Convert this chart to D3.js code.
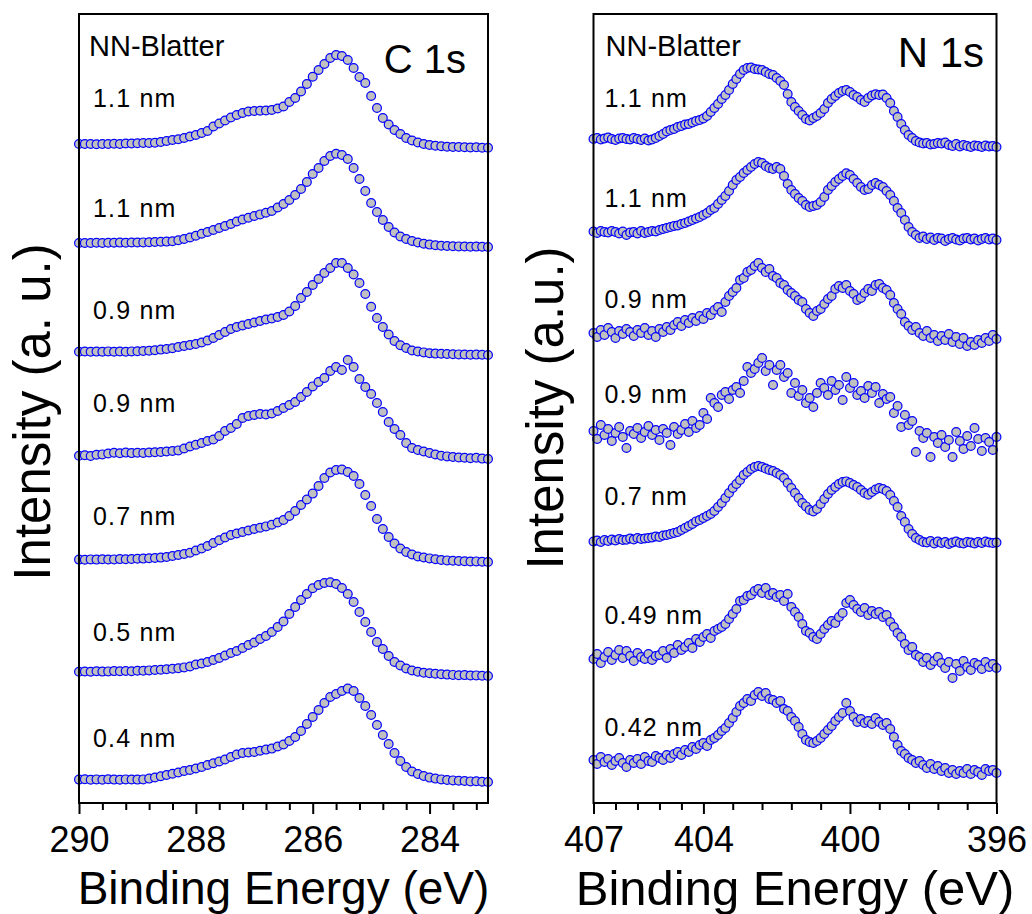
<!DOCTYPE html>
<html>
<head>
<meta charset="utf-8">
<script src="https://cdn.jsdelivr.net/npm/d3@7"></script>
<style>
  body { margin: 0; background: #fff; }
  text { font-family: "Liberation Sans", Arial, sans-serif; fill: #000; }
</style>
</head>
<body>
<div id="chart"></div>
<script>
// ---- data -------------------------------------------------------------
// binding energy grids (eV), 0.1 eV steps
const cEnergy = d3.range(71).map(i => +(290 - i * 0.1).toFixed(1));
const nEnergy = d3.range(111).map(i => +(407 - i * 0.1).toFixed(1));

const cLabels = ["1.1 nm", "1.1 nm", "0.9 nm", "0.9 nm", "0.7 nm", "0.5 nm", "0.4 nm"];
const nLabels = ["1.1 nm", "1.1 nm", "0.9 nm", "0.9 nm", "0.7 nm", "0.49 nm", "0.42 nm"];

// vertical stacking offsets (a.u.)
const cOffsets = [655, 556, 448, 344, 241, 127, 21];
const nOffsets = [656, 563, 463, 360, 260, 136, 30];

// C 1s spectra (a.u. above offset)
const c1 = [4,4,4,3.7,4,4,4.3,4,4.5,4.5, 4.7,5,5,5.3,6,7,8,8.7,10,11.5, 13,15,17,21.5,24.5,27.5,30.5,33,35,36.5,
  37,37.3,37.5,38,39.5,41.5,46,50,56.5,64, 71.3,78,84,90,93,92,88,80,71,65, 52,40,30,23.5,18,14,10,7.5,5.5,4,
  3,2.3,1.7,1.3,1,1,0.7,0.5,0.7,0.3, 0.3];
const c2 = [4,4,4,4.2,4,4.3,4.2,4.4,4.3,4.5, 4.5,4.6,4.8,5,5.2,5.4,5.8,6.8,8,9.5, 11.3,13.2,15,17,19,21,23,25.5,27.5,29.3,
  31,32.6,34.2,36,39.5,43,47,52,58,65, 73,79,86,91,93.3,92,88,79,68,56, 44,35,27,20,14.5,10.5,8,6,4.5,3.2,
  2.4,1.8,1.2,1,0.8,0.6,0.5,0.3,0.4,0.2, 0];
const c3 = [3.3,3.5,3.2,3.4,3.3,3.6,3.2,3.5,3.3,3.6, 3.8,4,4.3,4.8,5.4,6,6.7,8,9,10, 11,12.5,14.5,17,20,23,26,28,29.5,31,
  32.5,34,35.5,36.5,38,40,43.5,49,57,63, 70,76,82,87,92,92,87,80.5,72,61, 48.3,37,28,20.5,14,9.8,7,4.5,3.5,2.6,
  1.8,1.4,1.2,1,0.8,0.6,0.5,0.3,0.4,0.2, 0];
const c4 = [3.3,3.8,3,4.2,4.6,5.5,6.2,5.8,6.4,5.9, 6.3,6,6.5,6.8,7,7.5,8,8.6,10.5,12.5, 14.3,16,18,19.5,23,28,31,35,41,43,
  44,45,44.5,45.5,48,51,54,57,62,67, 72.6,77,81,88,92,89,99,92,80,72, 65,56,47,37,30,24,16,11,9,7.5,
  6,4.5,3.3,2.6,2,1.5,1.2,0.8,1.2,0.4, 0];
const c5 = [2.4,2.2,2.6,2.4,2.8,2.5,2.6,2.9,2.7,3, 3.2,3.4,3.7,4,4.4,5,6,7,8,9.2, 11.5,13.5,16,19,21.8,24.5,27,28.5,30,31.5,
  33,34.3,35.6,37.2,39.5,42,46,51,57,62.5, 68.4,76,84,89.5,92,92.4,90,86,78,67, 56,43,33,25,18.5,13.5,10,7.5,5.5,4.5,
  3.6,2.8,2,1.6,1.3,1,0.8,0.5,0.6,0.3, 0];
const c6 = [4.3,4.5,4.2,4.8,4.4,4.6,4.9,4.7,5,4.8, 5.2,5.3,5.6,6,6.3,6.8,7.3,7.8,8.6,9.5, 11.5,12.5,14,16,18,20.5,23,25,28,31,
  33.5,37,40,44,49,54.5,62,69,76,82, 87.7,91,93,93.7,92,88,82,74,64,54, 44,34,27,20,14,10.5,7.5,5.5,4.3,3.3,
  2.7,2.2,1.8,1.4,1.1,0.8,0.9,0.5,0.6,0.3, 0];
const c7 = [2.4,2.8,2.2,2.6,2.3,2.7,2.4,2.2,2.6,2.5, 2.4,2.6,3.4,4.5,5.7,7,8.3,9.5,11,12, 13.5,15,17,18.7,20.5,22.5,25,27.5,29,29.5,
  30,31.2,32.4,33.4,35.5,37.5,41,45,51,58, 65,72,79,85,88,91,93.4,91,84,76, 67,57,47,38,29,21,15,10.5,8,6,
  4.4,3.4,2.6,2,1.6,1.3,1,0.6,0.8,0.2, 0];

// N 1s spectra (a.u. above offset)
const n1 = [8,9,7.5,8.5,9.5,8,7,8.5,9,8, 7.5,9,8,7,8.5,6.5,7.5,9,11,13, 15.5,17,18,20,21,22.5,23,24.5,26,27,
  28.5,31,35,39,43,48,52,57,63,68, 73,77,79,79.5,78,77.5,77,75,73,72, 69,66,62,53,45,40,36,32,28,26.5,
  29,31,34,38,44,48,51,54,56,57, 55,52,50,47,45,49,51.5,52.7,52,52.5, 49,44,36,30,23,17,12,9,6,4.5,
  3.5,4,2.5,3,4,3.5,4.5,2,1,3, 0.5,2,1,0,1.5,1,0,1.5,0.5,1, 0];
const n2 = [8.5,7,9,8,7.5,9,8,6.5,8.5,5, 7.5,8,6.5,9,7,8,9,8.5,10,11, 12,13,14,14.5,16,17,18.5,20,21.5,23,
  25,27,30,32,36,40,44,49,55,60, 63,67,70,73,76,78,77,74,72,71, 73,71,64,56,50,46,42,39,35,33,
  34,35,38,43,50,54,58,61,64,66.7, 65,61,57,53,50,51,55,57,55,53, 49,45,39,32,27,20,13,8,5,2,
  3.5,1,2.5,0,2,1.5,-1,1,2,0.5, -0.5,1.5,2,0.5,1.5,-0.5,1,2,0.5,1.5, 0];
const n3 = [7,3,10,5,12,8,2,9,6,11, 8,4,10,7,12,5,9,3,11,8, 13,10,15,18,14,20,17,22,19,24,
  21,27,25,30,33,28,38,44,48,52, 60,62,68,70,74,77,72,68,71,64, 62,57,55,50,47,44,40,38,31,27,
  24,29,31,36,41,44,51,54,52,55, 49,46,40,42,47,51,49,55,56,52, 50,45,37,31,26,18,14,10,13,7,
  4,9,2,5,-1,4,0,6,-2,3, -4,2,-6,-2,-5,0,-3,2,-1,5, 1];
const n4 = [12,4,18,8,14,2,10,16,6,-5, 12,9,15,5,11,17,8,13,3,14, 10,-2,16,9,13,19,11,22,15,18,
  30,24,45,40,36,48,51,44,53,56, 50,62,76,70,74,80,85,72,78,58, 73,78,66,70,50,60,47,53,40,45,
  36,50,60,55,48,62,53,58,43,66, 55,60,48,52,45,57,50,56,40,49, 44,46,30,37,16,28,18,22,-9,12,
  5,10,-14,6,0,8,-4,3,-14,11, 2,-6,7,-3,15,4,-8,5,1,-7, 6];
const n5 = [1.5,2.5,1,3,2,3.5,2.5,4,3,3.3, 4.5,3.5,5,4,4.5,5,5.5,6.5,6,7.5, 8,9,10,11,13,15,17,19,21.6,23,
  25,27,29,32,36,40,45,50,55,59, 63,68,71,74,76,77,76,74.5,73,72, 70,68,65,60,55,50,45,40,36.6,33,
  31.6,34,39,44,49,53,56,59,61,61.6, 60,58,56,53,50,48.3,51,53.5,55,54, 52,48,42,36,27,21,14,9,5,3,
  1,0.5,2,-0.5,1.5,0,1,-1,0.5,1.5, 0,-0.5,1,0.5,-0.5,1,0,1.5,0.5,0, 0.5];
const n6 = [8,13,4,10,15,7,12,17,9,16, 11,6,14,10,8,13,7,11,12,16, 9,18,14,22,17,20,24,19,28,25,
  30,33,29,36,38,40,43,48,53,58, 66,67,71,72,76,78,74,79,72,74, 70,72,66,73,60,55,50,43,36,34,
  30,28,33,38,42,46,44,50,54,64, 67,62,58,55,59,52,56,53,55,50, 52,45,40,34,30,23,17,20,12,10,
  5,9,2,6,10,4,-1,5,-11,3, -4,6,0,-3,4,2,-2,5,0,3, -1];
const n7 = [13,9,16,11,14,8,12,15,10,6, 13,10,14,9,16,12,11,17,15,13, 18,15,19,21,18,23,21,26,24,28,
  30,27,33,35,38,42,45,50,55,61, 67,70,74,72,78,81,77,80,74,73, 70,72,64,62,56,52,46,39,33,31,
  30,32,35,39,43,47,52,56,60,70, 62,56,51,54,50,52,49,55,51,48, 50,44,36,28,22,19,15,13,10,12,
  8,5,9,4,7,2,5,0,3,-1, 2,0,4,-1,3,1,-2,4,2,3, 0];

const cSeries = [c1, c2, c3, c4, c5, c6, c7];
const nSeries = [n1, n2, n3, n4, n5, n6, n7];

// tick values
const cMajor = [290, 288, 286, 284];
const cMinor = [289.6, 289.2, 288.8, 288.4, 287.6, 287.2, 286.8, 286.4, 285.6, 285.2, 284.8, 284.4, 283.6, 283.2];
const nMajor = [407, 404, 400, 396];
const nMinor = [406.4, 405.8, 405.2, 404.6, 403.2, 402.4, 401.6, 400.8, 399.2, 398.4, 397.6, 396.8];

// ---- layout -----------------------------------------------------------
const W = 1032, H = 914;
const plotTop = 14, plotBottom = 803;

const svg = d3.select("#chart")
    .append("svg")
    .attr("width", W)
    .attr("height", H);

const y = d3.scaleLinear().domain([0, plotBottom - plotTop]).range([plotBottom, plotTop]);

function createPanel(p) {
    const x = d3.scaleLinear().domain(p.domain).range([p.left, p.right]);
    const g = svg.append("g");

    // spectra
    p.series.forEach((values, k) => {
        g.append("g")
            .selectAll("circle")
            .data(values.map((v, i) => [p.energy[i], v + p.offsets[k]]))
            .join("circle")
            .attr("cx", d => x(d[0]))
            .attr("cy", d => y(d[1]))
            .attr("r", 4.4)
            .attr("fill", "#c0c0c0")
            .attr("stroke", "#0000ff")
            .attr("stroke-width", 1.2);
    });

    // layer thickness labels
    p.labels.forEach((t, k) => {
        g.append("text")
            .attr("x", p.left + p.labelDx)
            .attr("y", p.labelY[k])
            .attr("font-size", 25)
            .attr("letter-spacing", 1.2)
            .text(t);
    });

    // frame
    g.append("rect")
        .attr("x", p.left)
        .attr("y", plotTop)
        .attr("width", p.right - p.left)
        .attr("height", plotBottom - plotTop)
        .attr("fill", "none")
        .attr("stroke", "#000")
        .attr("stroke-width", 2);

    // bottom axis: minor then major ticks
    const minorAxis = g.append("g")
        .attr("transform", `translate(0,${plotBottom})`)
        .call(d3.axisBottom(x).tickValues(p.minor).tickSize(7).tickFormat(""));
    const majorAxis = g.append("g")
        .attr("transform", `translate(0,${plotBottom})`)
        .call(d3.axisBottom(x).tickValues(p.major).tickSize(11).tickFormat(d3.format("d")));

    [minorAxis, majorAxis].forEach(a => {
        a.select(".domain").remove();
        a.selectAll("line").attr("stroke", "#000").attr("stroke-width", 2);
    });
    majorAxis.selectAll("text")
        .attr("y", 49)
        .attr("dy", null)
        .attr("fill", "#000")
        .style("font-size", "36px")
        .style("font-family", '"Liberation Sans", Arial, sans-serif');

    // axis titles
    g.append("text")
        .attr("x", (p.left + p.right) / 2)
        .attr("y", p.xTitleY)
        .attr("text-anchor", "middle")
        .attr("font-size", p.xTitleSize)
        .text("Binding Energy (eV)");

    g.append("text")
        .attr("transform", `translate(${p.yTitleX},${p.yTitleMid}) rotate(-90)`)
        .attr("text-anchor", "middle")
        .attr("font-size", 51)
        .text(p.yTitle);

    // panel headers
    g.append("text")
        .attr("x", p.left + p.headDx)
        .attr("y", 56)
        .attr("font-size", 29)
        .text("NN-Blatter");

    g.append("text")
        .attr("x", p.coreX)
        .attr("y", p.coreY)
        .attr("text-anchor", "end")
        .attr("font-size", p.coreSize)
        .text(p.core);
}

createPanel({
    domain: [290, 283], left: 79, right: 488,
    energy: cEnergy, series: cSeries, offsets: cOffsets,
    labels: cLabels, labelY: [107, 217, 319, 412, 525, 641, 747], labelDx: 14,
    major: cMajor, minor: cMinor,
    xTitleY: 904, xTitleSize: 46,
    yTitle: "Intensity (a. u.)", yTitleX: 50, yTitleMid: 412,
    headDx: 10, core: "C 1s", coreX: 466, coreY: 73, coreSize: 40
});

createPanel({
    domain: [407, 396], left: 593.5, right: 996.5,
    energy: nEnergy, series: nSeries, offsets: nOffsets,
    labels: nLabels, labelY: [107, 207, 308, 403, 505, 624, 736], labelDx: 11,
    major: nMajor, minor: nMinor,
    xTitleY: 905, xTitleSize: 49,
    yTitle: "Intensity (a.u.)", yTitleX: 563, yTitleMid: 408,
    headDx: 12, core: "N 1s", coreX: 984, coreY: 67, coreSize: 42
});
</script>
</body>
</html>
